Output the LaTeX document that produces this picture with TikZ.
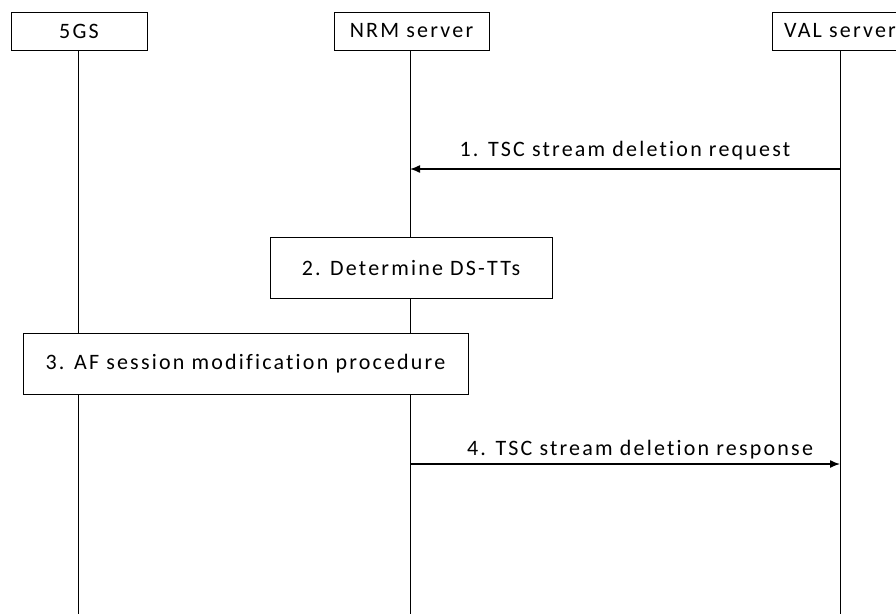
\documentclass[tikz,border=0pt]{standalone}
\usepackage{fontspec}
\setmainfont{Carlito}[LetterSpace=10, Ligatures={NoCommon}]
\usepackage{tikz}
\usetikzlibrary{arrows.meta}

\begin{document}
\begin{tikzpicture}[x=1pt, y=-1pt, font=\fontsize{22}{26}\selectfont,
            entity/.style={draw, rectangle, fill=white, minimum height=38pt, inner sep=0pt},
            action/.style={draw, rectangle, fill=white, minimum height=61pt, inner sep=0pt},
            lifeline/.style={draw, line width=0.8pt},
            msg/.style={line width=1.4pt, -{Latex[length=10pt, width=8pt]}}]
            \clip (0,0) rectangle (896,614);
            \useasboundingbox (0,0) rectangle (896,614);

            % Entities
            \node (fivegs) [entity, minimum width=136pt] at (79,31) {5GS};
            \node (nrm) [entity, minimum width=155pt] at (411.5,31) {NRM server};
            \node (val) [entity, minimum width=136pt] at (840,31) {VAL server};

            % Lifeline ends
            \coordinate (fivegsend) at (78,614);
            \coordinate (nrmend) at (410,614);
            \coordinate (valend) at (840,614);
            \draw [lifeline] (fivegs.south -| fivegsend) -- (fivegsend);
            \draw [lifeline] (nrm.south -| nrmend) -- (nrmend);
            \draw [lifeline] (val.south -| valend) -- (valend);

            % Steps
            \node (determine) [action, minimum width=282pt] at (411,268) {2. Determine DS-TTs};
            \node (afsession) [action, minimum width=445pt] at (245.5,363.5) {3. AF session modification procedure};

            % Messages
            \coordinate (valreq) at (840,169);
            \coordinate (nrmreq) at (410,169);
            \coordinate (nrmresp) at (410,464);
            \coordinate (valresp) at (840,464);
            \draw [msg] (valreq) -- node[above, pos=0.5, yshift=5pt] {1. TSC stream deletion request} (nrmreq);
            \draw [msg] (nrmresp) -- node[above, pos=0.535, yshift=1pt] {4. TSC stream deletion response} (valresp);
        \end{tikzpicture}
\end{document}
